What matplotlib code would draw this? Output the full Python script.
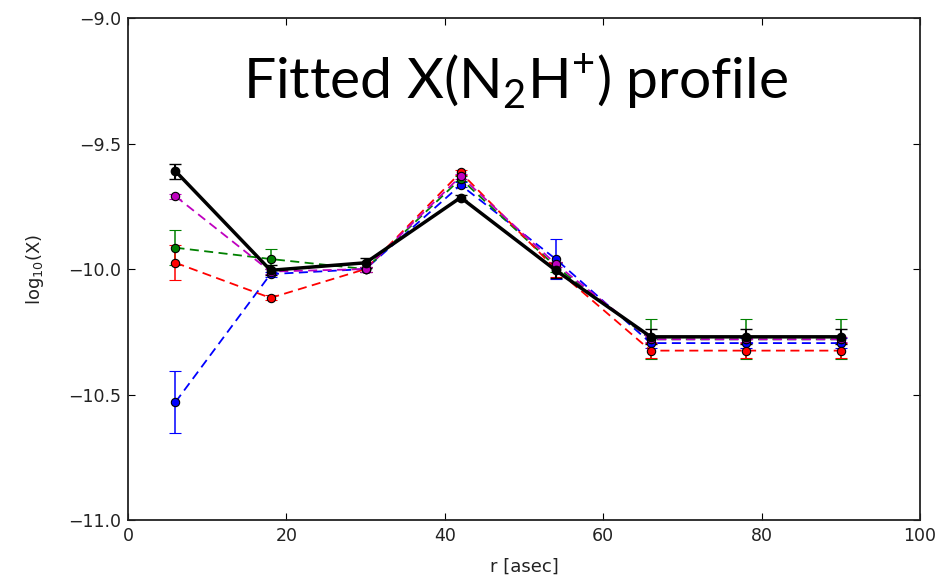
import matplotlib
matplotlib.use("Agg")
import matplotlib.pyplot as plt
import numpy as np

# radii (asec)
r = [6, 18, 30, 42, 54, 66, 78, 90]

# fitted log10(X) per model
blue = [-10.53, -10.02, -10.00, -9.665, -9.96, -10.295, -10.295, -10.295]
blue_err = [0.125, 0.01, 0.01, 0.01, 0.08, 0.02, 0.02, 0.02]
green = [-9.915, -9.96, -10.00, -9.64, -9.99, -10.28, -10.28, -10.28]
green_err = [0.07, 0.04, 0.01, 0.01, 0.02, 0.08, 0.08, 0.08]
red = [-9.975, -10.115, -10.00, -9.615, -10.00, -10.325, -10.325, -10.325]
red_err = [0.07, 0.01, 0.01, 0.01, 0.03, 0.03, 0.03, 0.03]
magenta = [-9.71, -10.01, -10.00, -9.63, -9.98, -10.28, -10.28, -10.28]
magenta_err = [0.01, 0.01, 0.01, 0.01, 0.01, 0.01, 0.01, 0.01]
black = [-9.61, -10.005, -9.975, -9.715, -10.005, -10.27, -10.27, -10.27]
black_err = [0.03, 0.02, 0.02, 0.01, 0.03, 0.03, 0.03, 0.03]

fig = plt.figure(figsize=(9.43, 5.83), dpi=100)
ax = fig.add_axes([0.1357, 0.108, 0.84, 0.861])

for y, e, c in [(blue, blue_err, "b"), (green, green_err, "g"),
                (red, red_err, "r"), (magenta, magenta_err, "m")]:
    ax.errorbar(r, y, yerr=e, color=c, linestyle="--", linewidth=1.3,
                dashes=(5, 3), marker="o", markersize=6, markeredgecolor="k",
                markeredgewidth=0.8, capsize=4, elinewidth=1.1, capthick=1.1)

ax.errorbar(r, black, yerr=black_err, color="k", linestyle="-", linewidth=2.5,
            marker="o", markersize=6, capsize=4, elinewidth=1.5)

ax.set_xlim(0, 100)
ax.set_ylim(-11, -9)
ax.set_yticks(np.arange(-11, -8.9, 0.5))
ax.yaxis.set_major_formatter(
    matplotlib.ticker.FuncFormatter(lambda v, p: ("%.1f" % v).replace("-", "\u2212")))
ax.tick_params(direction="in", length=5, labelsize=12.5, top=True, right=True,
               labelcolor="#222222", pad=5)
for s in ax.spines.values():
    s.set_linewidth(1.3)
    s.set_color("#222222")

ax.set_xlabel("r [asec]", fontsize=13, color="#222222", labelpad=9)
ax.set_ylabel(r"$\mathrm{log}_{10}$(X)", fontsize=13, color="#222222", labelpad=16)

ax.text(0.489, 0.874, r"Fitted X(N$_\mathregular{2}$H$^\mathregular{+}$) profile",
        transform=ax.transAxes, ha="center", va="center", fontsize=41,
        family="Lato")

fig.savefig("out.png", dpi=100)
